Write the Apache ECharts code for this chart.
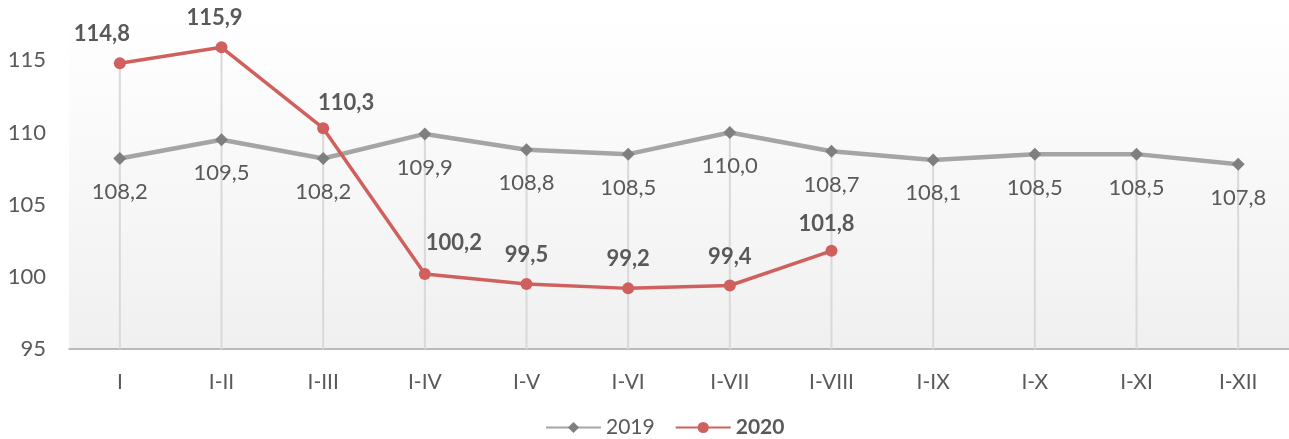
<!DOCTYPE html>
<html>
<head>
<meta charset="utf-8">
<script src="https://cdn.jsdelivr.net/npm/echarts@6/dist/echarts.min.js"></script>
<style>
  html, body { margin: 0; padding: 0; background: #fff; }
  #chart-container { width: 1289px; height: 439px; }
</style>
</head>
<body>
<div id="chart-container"></div>
<script>
const categories = ["I", "I-II", "I-III", "I-IV", "I-V", "I-VI", "I-VII", "I-VIII", "I-IX", "I-X", "I-XI", "I-XII"];
const values2019 = [108.2, 109.5, 108.2, 109.9, 108.8, 108.5, 110.0, 108.7, 108.1, 108.5, 108.5, 107.8];
const values2020 = [114.8, 115.9, 110.3, 100.2, 99.5, 99.2, 99.4, 101.8];

// label nudges for the 2020 series (style only)
const offsets2020 = [[-18, 0], [-7, 0], [23, 4], [29, -2], [0, 0], [0, 0], [0, 0], [-5, 2]];

const font = "Lato, sans-serif";
const fmt = (v) => v.toFixed(1).replace(".", ",");

// drop lines reach up to the higher of the two points
const dropTops = categories.map((c, i) => {
  const b = values2020[i];
  return b !== undefined ? Math.max(b, values2019[i]) : values2019[i];
});

const dom = document.getElementById("chart-container");
const myChart = echarts.init(dom, null, { renderer: "canvas" });

const option = {
  animation: false,
  backgroundColor: "#fff",
  textStyle: { fontFamily: font },
  grid: {
    left: 69,
    right: 0,
    top: 17,
    bottom: 90,
    show: true,
    borderWidth: 0,
    backgroundColor: {
      type: "linear", x: 0, y: 0, x2: 0, y2: 1,
      colorStops: [
        { offset: 0, color: "#ffffff" },
        { offset: 1, color: "#f0f0f0" },
      ],
    },
  },
  legend: {
    top: 412,
    left: 540,
    itemWidth: 55,
    itemHeight: 14,
    itemGap: 20,
    textStyle: { fontSize: 21, color: "#595959", fontFamily: font },
    data: [
      { name: "2019" },
      { name: "2020", textStyle: { fontWeight: "bold" } },
    ],
  },
  xAxis: {
    type: "category",
    data: categories,
    axisTick: { show: false },
    axisLine: { lineStyle: { color: "#a6a6a6", width: 1.5 } },
    axisLabel: { color: "#595959", fontSize: 21, margin: 23, fontFamily: font },
    splitLine: { show: false },
  },
  yAxis: {
    type: "value",
    min: 95,
    max: 118,
    interval: 5,
    axisLine: { show: false },
    axisTick: { show: false },
    splitLine: { show: false },
    axisLabel: {
      color: "#595959",
      fontSize: 22,
      margin: 23,
      showMaxLabel: false,
      fontFamily: font,
    },
  },
  series: [
    {
      name: "drop",
      type: "bar",
      data: dropTops,
      barWidth: 2,
      itemStyle: { color: "#d9d9d9" },
      silent: true,
      z: 1,
    },
    {
      name: "2019",
      type: "line",
      data: values2019,
      symbol: "diamond",
      symbolSize: 13,
      lineStyle: { color: "#a5a5a5", width: 4.5 },
      itemStyle: { color: "#7f7f7f" },
      label: {
        show: true,
        position: "bottom",
        distance: 16,
        color: "#595959",
        fontSize: 22,
        fontFamily: font,
        formatter: (p) => fmt(p.value),
      },
      z: 3,
    },
    {
      name: "2020",
      type: "line",
      data: values2020.map((v, i) => ({
        value: v,
        label: { offset: offsets2020[i] },
      })),
      symbol: "circle",
      symbolSize: 12,
      lineStyle: { color: "#d0605e", width: 3.5 },
      itemStyle: { color: "#d0605e" },
      label: {
        show: true,
        position: "top",
        distance: 12,
        color: "#595959",
        fontSize: 22,
        fontWeight: "bold",
        fontFamily: font,
        formatter: (p) => fmt(p.value),
      },
      z: 4,
    },
  ],
};

myChart.setOption(option);
window.addEventListener("resize", myChart.resize);
</script>
</body>
</html>
